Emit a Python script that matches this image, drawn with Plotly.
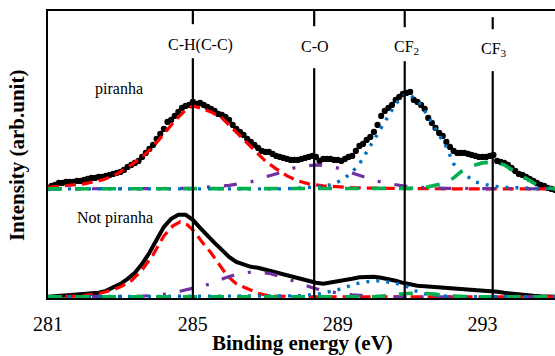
import numpy as np
import plotly.graph_objects as go

# ---------------- data ----------------
# Piranha-treated spectrum (dots), 0.1 eV steps from 281.0 to 295.0
PIR_X = [round(281.0 + 0.1 * i, 1) for i in range(141)]
PIR_Y = [109, 111, 112, 114, 114, 115, 115, 115, 116, 116,
         117, 118, 119, 119, 120, 120, 121, 122, 123, 124,
         125, 127, 130, 132, 134, 136, 140, 144, 148, 152,
         158, 163, 168, 175, 177, 181, 185, 189, 191, 192,
         195, 193, 194, 192, 190, 188, 186, 183, 182, 180,
         177, 172, 168, 165, 162, 158, 155, 152, 149, 146,
         145, 145, 143, 141, 140, 139, 138, 137, 137, 137,
         138, 139, 140, 141, 140, 136, 138, 138, 138, 137,
         137, 136, 138, 140, 141, 146, 151, 153, 157, 160,
         165, 172, 181, 186, 189, 192, 197, 200, 203, 204,
         205, 197, 195, 192, 188, 179, 174, 169, 164, 161,
         155, 150, 146, 144, 144, 144, 143, 142, 141, 140,
         140, 140, 141, 142, 136, 135, 134, 132, 129, 126,
         123, 122, 120, 118, 116, 114, 112, 111, 109, 108, 107]

# Not-piranha spectrum (solid line), 0.2 eV steps
NP_X = [round(281.0 + 0.2 * i, 1) for i in range(71)]
NP_Y = [0, 0.5, 0.5, 1, 1.5, 2, 3, 4, 6, 9,
        13, 18, 24, 33, 44, 57, 70, 78, 82, 82,
        77, 69, 61, 54, 47, 40, 35, 32, 30, 29,
        27, 25, 23, 21, 19, 17, 15, 14, 13, 14,
        15, 16, 18, 19.5, 20, 20, 19, 18, 16, 14,
        12, 11, 10.5, 10, 9.5, 9, 9, 8.5, 7.5, 7,
        7, 6, 5, 4, 3, 2, 1.5, 1, 0.5, 0, 0]

# Piranha fitted components
P_CH_X = [281.0, 281.5, 282.0, 282.5, 282.8, 283.0, 283.3, 283.6, 283.9, 284.2, 284.5, 284.8,
          285.0, 285.2, 285.5, 285.8, 286.1, 286.4, 286.7, 287.0, 287.3, 287.6, 287.9, 288.2,
          288.6, 289.0, 289.5, 290.5, 292.0, 295.0]
P_CH_Y = [109.5, 111, 113, 117, 121, 125, 132, 140, 150, 163, 176, 187,
          191, 189, 185, 179, 168, 157, 146, 136, 128, 121, 116, 113,
          111, 110, 109, 108.5, 108, 108]
P_CO_X = [281.0, 284.5, 285.0, 285.5, 286.0, 286.6, 287.0, 287.4, 287.8, 288.1, 288.45, 288.8,
          289.1, 289.4, 289.7, 290.0, 290.3, 290.8, 291.3, 292.0, 295.0]
P_CO_Y = [108, 108, 108.5, 110, 111.5, 115, 120, 124, 129, 131, 132, 130.5,
          128, 124, 120, 116.5, 114, 111, 109.5, 108.5, 108]
P_CF2_X = [281.0, 287.5, 288.0, 288.4, 288.8, 289.0, 289.2, 289.4, 289.6, 289.8, 290.0, 290.2,
           290.3, 290.45, 290.6, 290.8, 290.95, 291.1, 291.25, 291.4, 291.6, 291.8, 292.0, 292.2,
           292.4, 292.6, 292.8, 293.0, 293.25, 293.6, 294.2, 295.0]
P_CF2_Y = [108, 108, 109, 110, 112, 115, 119, 125, 133, 145, 158, 170,
           176, 185, 193, 201, 204, 199, 194, 186, 174, 163, 150, 133,
           125, 120, 115, 113, 111, 109.5, 108.5, 108]
P_CF3_X = [281.0, 290.5, 291.0, 291.5, 291.8, 292.0, 292.2, 292.4, 292.7, 293.0, 293.3, 293.6,
           293.9, 294.2, 294.5, 294.8, 295.0]
P_CF3_Y = [108, 108, 108.5, 110, 112, 114, 119, 125, 131, 134, 135, 132,
           125, 118, 112, 109, 108]

# Not-piranha fitted components
N_CH_X = [281.0, 281.5, 282.0, 282.5, 282.8, 283.0, 283.3, 283.6, 283.9, 284.2, 284.45, 284.65,
          284.85, 285.05, 285.25, 285.5, 285.7, 285.95, 286.2, 286.5, 286.8, 287.1, 287.5, 288.0, 295.0]
N_CH_Y = [0, 0.5, 1, 4, 7, 10, 16, 27, 42, 61, 71, 75,
          72, 65, 55, 44, 34, 21, 13, 8, 3.5, 1, 0.3, 0, 0]
N_CO_X = [281.0, 283.5, 284.0, 284.3, 284.7, 285.1, 285.5, 285.9, 286.3, 286.7, 287.1, 287.5,
          287.9, 288.3, 288.7, 289.0, 289.4, 290.0, 290.5, 295.0]
N_CO_Y = [0, 0.5, 1.5, 3, 6, 9.5, 13, 19, 23.5, 25, 23.5, 19.5,
          14, 9, 5.5, 4, 2, 0.5, 0, 0]
N_CF2_X = [281.0, 287.5, 288.0, 288.5, 288.8, 289.0, 289.25, 289.5, 289.8, 290.07, 290.35, 290.6,
           290.9, 291.1, 291.4, 291.8, 292.3, 292.8, 295.0]
N_CF2_Y = [0, 0.3, 1, 3, 5, 7, 10, 13, 15, 16, 15, 13.5,
           10.5, 6.5, 3, 1, 0.2, 0, 0]
N_CF3_X = [281.0, 290.0, 290.5, 290.8, 291.2, 291.6, 292.0, 292.4, 292.8, 295.0]
N_CF3_Y = [0, 0, 1.5, 3, 3.8, 3, 1, 0.2, 0, 0]

PEAK_EV = [285.0, 288.35, 290.85, 293.28]
PEAK_LABELS = ["C-H(C-C)", "C-O", "CF<sub>2</sub>", "CF<sub>3</sub>"]
SAMPLE_LABELS = ["piranha", "Not piranha"]
X_TICKS = [281, 285, 289, 293]
X_TITLE = "Binding energy (eV)"
Y_TITLE = "Intensity (arb.unit)"

# ---------------- styles ----------------
SERIF = "Liberation Serif"
RED, PURPLE, BLUE, GREEN = "#FF0000", "#7030A0", "#0070C0", "#00B050"
STY = {
    "ch": dict(color=RED, width=3.2, dash="11px,6px"),
    "co": dict(color=PURPLE, width=3.2, dash="13px,14px,3px,14px"),
    "cf2": dict(color=BLUE, width=3.4, dash="3px,7px"),
    "cf3": dict(color=GREEN, width=3.6, dash="14px,13px"),
}

fig = go.Figure()

fig.add_trace(go.Scatter(x=NP_X, y=NP_Y, mode="lines",
                         line=dict(color="black", width=4), hoverinfo="skip"))
fig.add_trace(go.Scatter(x=PIR_X, y=PIR_Y, mode="markers",
                         marker=dict(color="black", size=6.2), hoverinfo="skip"))

for (xs, ys, key) in [(P_CH_X, P_CH_Y, "ch"), (N_CH_X, N_CH_Y, "ch"),
                      (P_CO_X, P_CO_Y, "co"), (N_CO_X, N_CO_Y, "co"),
                      (P_CF2_X, P_CF2_Y, "cf2"), (N_CF2_X, N_CF2_Y, "cf2"),
                      (P_CF3_X, P_CF3_Y, "cf3"), (N_CF3_X, N_CF3_Y, "cf3")]:
    fig.add_trace(go.Scatter(x=xs, y=ys, mode="lines", line=STY[key],
                             hoverinfo="skip"))

# vertical reference lines, broken around their labels
Y_TOP = 286
Y_BOT = -1.2
line_gaps = [  # (upper segment start, upper segment end, lower segment start)
    (Y_TOP, 272.8, 238.8),
    (Y_TOP, 270.8, 228.8),
    (Y_TOP, 269.8, 235.8),
    (279.8, 267.8, 225.8),
]
label_pos = [(285.2, 251.8), (288.37, 250.0), (290.89, 249.0), (293.32, 247.5)]
shapes = []
annotations = []
for ev, lab, gap, lp in zip(PEAK_EV, PEAK_LABELS, line_gaps, label_pos):
    shapes.append(dict(type="line", xref="x", yref="y", x0=ev, x1=ev, y0=gap[0], y1=gap[1],
                       line=dict(color="black", width=2.2)))
    shapes.append(dict(type="line", xref="x", yref="y", x0=ev, x1=ev, y0=gap[2], y1=Y_BOT,
                       line=dict(color="black", width=2.2)))
    annotations.append(dict(x=lp[0], y=lp[1], xref="x", yref="y", text=lab, showarrow=False,
                            xanchor="center", yanchor="middle",
                            font=dict(family=SERIF, size=16, color="black")))

annotations.append(dict(x=282.95, y=207.8, xref="x", yref="y", text=SAMPLE_LABELS[0],
                        showarrow=False, font=dict(family=SERIF, size=16, color="black")))
annotations.append(dict(x=282.85, y=78.8, xref="x", yref="y", text=SAMPLE_LABELS[1],
                        showarrow=False, font=dict(family=SERIF, size=16, color="black")))
annotations.append(dict(x=0.501, y=-0.156, xref="paper", yref="paper", text="<b>%s</b>" % X_TITLE,
                        showarrow=False, xanchor="center", yanchor="middle",
                        font=dict(family=SERIF, size=21, color="black")))
annotations.append(dict(x=-0.0611, y=0.498, xref="paper", yref="paper", text="<b>%s</b>" % Y_TITLE,
                        showarrow=False, xanchor="center", yanchor="middle", textangle=-90,
                        font=dict(family=SERIF, size=21, color="black")))

fig.update_layout(
    width=555, height=356,
    margin=dict(l=48, r=0, t=11, b=58),
    paper_bgcolor="white", plot_bgcolor="white",
    showlegend=False,
    shapes=shapes, annotations=annotations,
    xaxis=dict(range=[281, 295], tickvals=X_TICKS, ticktext=[str(t) for t in X_TICKS],
               showline=True, linewidth=2, linecolor="black", mirror=True,
               ticks="", showgrid=False, zeroline=False, ticklabelstandoff=7,
               tickfont=dict(family=SERIF, size=20, color="black")),
    yaxis=dict(range=[Y_BOT, Y_TOP], showline=True, linewidth=2, linecolor="black",
               ticks="", showticklabels=False, showgrid=False, zeroline=False),
)

# remove the default page margin so the 555x356 figure fills the window exactly
fig.write_html("out.html",
               config={"displayModeBar": False},
               post_script="document.body.style.margin='0';document.body.style.overflow='hidden';")
